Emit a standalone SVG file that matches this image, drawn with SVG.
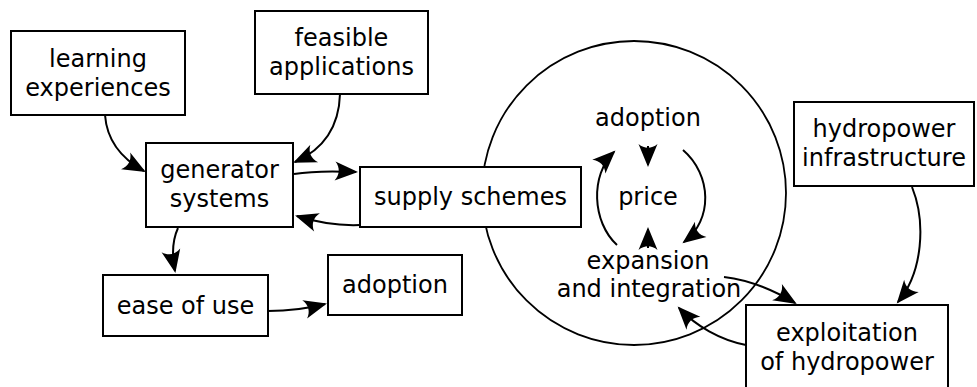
<svg xmlns="http://www.w3.org/2000/svg" width="977" height="387" viewBox="0 0 977 387">
  <defs>
    <style>
      .box { fill: #ffffff; stroke: #000000; stroke-width: 2; }
      .ring { fill: none; stroke: #000000; stroke-width: 1.8; }
      .lbl { font-family: "DejaVu Sans", "Liberation Sans", sans-serif; font-size: 24px; fill: #000000; text-anchor: middle; }
      .link { fill: none; stroke: #000000; stroke-width: 2; marker-end: url(#head); }
    </style>
    <marker id="head" markerUnits="userSpaceOnUse" orient="auto" refX="0" refY="0" markerWidth="1" markerHeight="1" overflow="visible">
      <path d="M2,0 L-21,-9.5 C-16,-3.5 -16,3.5 -21,9.5 Z" fill="#000000"/>
    </marker>
  </defs>

  <rect width="977" height="387" fill="#ffffff"/>

  <!-- market cycle ring -->
  <g id="cycle">
    <circle class="ring" cx="634" cy="193" r="152"/>
    <text class="lbl" x="648" y="126">adoption</text>
    <text class="lbl" x="648" y="205">price</text>
    <text class="lbl" x="648" y="269">expansion</text>
    <text class="lbl" x="649" y="297">and integration</text>
  </g>

  <g id="learning">
    <rect class="box" x="11" y="31" width="174" height="84"/>
    <text class="lbl" x="98" y="67">learning</text>
    <text class="lbl" x="98" y="96">experiences</text>
  </g>

  <g id="feasible">
    <rect class="box" x="255" y="11" width="173" height="83"/>
    <text class="lbl" x="341.5" y="46">feasible</text>
    <text class="lbl" x="341.5" y="75">applications</text>
  </g>

  <g id="generator">
    <rect class="box" x="146" y="143" width="147" height="84"/>
    <text class="lbl" x="219.5" y="178">generator</text>
    <text class="lbl" x="219.5" y="207">systems</text>
  </g>

  <g id="supply">
    <rect class="box" x="360" y="167" width="221" height="60"/>
    <text class="lbl" x="470.5" y="205">supply schemes</text>
  </g>

  <g id="ease">
    <rect class="box" x="103" y="275" width="165" height="61"/>
    <text class="lbl" x="185.5" y="314">ease of use</text>
  </g>

  <g id="adoption">
    <rect class="box" x="328" y="255" width="134" height="60"/>
    <text class="lbl" x="395" y="293">adoption</text>
  </g>

  <g id="hydro-infra">
    <rect class="box" x="794" y="102" width="180" height="84"/>
    <text class="lbl" x="884" y="137">hydropower</text>
    <text class="lbl" x="884" y="166">infrastructure</text>
  </g>

  <g id="exploitation">
    <rect class="box" x="746" y="305" width="202" height="85"/>
    <text class="lbl" x="847" y="341">exploitation</text>
    <text class="lbl" x="847" y="370">of hydropower</text>
  </g>

  <g id="connectors">
    <path class="link" d="M105,115 C107,142 124,160 144,171"/>
    <path class="link" d="M340,94 C339,128 322,150 295,162"/>
    <path class="link" d="M294,174 C312,171 335,171 356,172"/>
    <path class="link" d="M360,225 C336,226 316,222 297,216"/>
    <path class="link" d="M178,228 C172,241 172,256 175,271"/>
    <path class="link" d="M268,311 C290,311 306,309 325,304"/>
    <path class="link" d="M648,146 L648,165"/>
    <path class="link" d="M648,248 L648,229"/>
    <path class="link" d="M617,245 C592,222 590,175 614,152"/>
    <path class="link" d="M683,150 C712,175 713,220 684,242"/>
    <path class="link" d="M724,277 C750,280 775,291 795,303"/>
    <path class="link" d="M746,345 C720,340 696,326 679,308"/>
    <path class="link" d="M912,187 C926,222 923,272 898,302"/>
  </g>
</svg>
